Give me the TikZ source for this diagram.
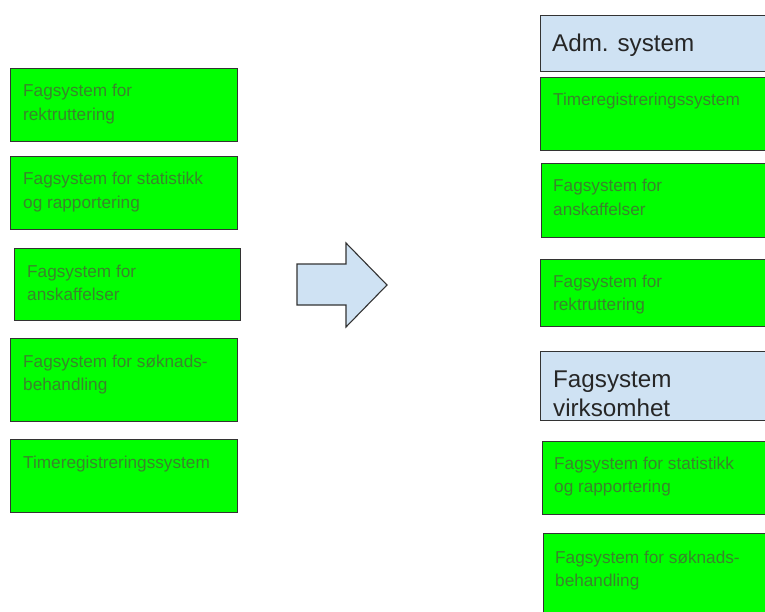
\documentclass[tikz,border=0pt]{standalone}
\usepackage{fontspec}
\setmainfont{Liberation Sans}
\definecolor{gfill}{HTML}{00FF00}
\definecolor{gtext}{RGB}{58,132,44}
\definecolor{bfill}{HTML}{CFE2F3}
\definecolor{bord}{HTML}{333333}
\tikzset{
  gbox/.style={draw=bord, line width=1.1pt, fill=gfill, anchor=north west, inner sep=0pt},
  bbox/.style={draw=bord, line width=1.1pt, fill=bfill, anchor=north west, inner sep=0pt},
  gtxt/.style={anchor=base west, inner sep=0pt, align=left, text=gtext, font=\fontsize{17.2}{23.5}\selectfont},
  btxt/.style={anchor=base west, inner sep=0pt, align=left, text=black!85, font=\fontsize{24.2}{29}\selectfont},
}
\begin{document}
\begin{tikzpicture}[x=1pt,y=-1pt]
\useasboundingbox (0,0) rectangle (765,612);
\fill[white] (0,0) rectangle (765,612);
\clip (0,0) rectangle (765,612);
% left column (two-line text nodes are anchored at the baseline of their last line)
\node[gbox, minimum width=227pt, minimum height=73pt] (l1) at (10,68) {};
\node[gtxt] (l1t) at (23,120.5) {Fagsystem for\\rektruttering};
\node[gbox, minimum width=227pt, minimum height=73pt] (l2) at (10,156) {};
\node[gtxt] (l2t) at (23,208.5) {Fagsystem for statistikk\\og rapportering};
\node[gbox, minimum width=226pt, minimum height=72pt] (l3) at (14,248) {};
\node[gtxt] (l3t) at (27,300.5) {Fagsystem for\\anskaffelser};
\node[gbox, minimum width=227pt, minimum height=83pt] (l4) at (10,338) {};
\node[gtxt] (l4t) at (23,390.5) {Fagsystem for søknads-\\behandling};
\node[gbox, minimum width=227pt, minimum height=73pt] (l5) at (10,439) {};
\node[gtxt] (l5t) at (23,468) {Timeregistreringssystem};
% arrow
\draw[draw=bord, line width=1.1pt, fill=bfill, line join=miter]
  (297,264) -- (346,264) -- (346,243) -- (387,285) -- (346,327) -- (346,305) -- (297,305) -- cycle;
% right column
\node[bbox, minimum width=260pt, minimum height=56pt] (r0) at (540,15) {};
\node[btxt] (r0t) at (552,52) {Adm. system};
\node[gbox, minimum width=260pt, minimum height=73pt] (r1) at (540,77) {};
\node[gtxt] (r1t) at (553,106) {Timeregistreringssystem};
\node[gbox, minimum width=260pt, minimum height=74pt] (r2) at (541,163) {};
\node[gtxt] (r2t) at (553,215.5) {Fagsystem for\\anskaffelser};
\node[gbox, minimum width=260pt, minimum height=67pt] (r3) at (540,259) {};
\node[gtxt] (r3t) at (553,310.5) {Fagsystem for\\rektruttering};
\node[bbox, minimum width=260pt, minimum height=69pt] (r4) at (540,351) {};
\node[btxt] (r4t) at (553,416) {Fagsystem\\virksomhet};
\node[gbox, minimum width=260pt, minimum height=73pt] (r5) at (542,441) {};
\node[gtxt] (r5t) at (554,492.5) {Fagsystem for statistikk\\og rapportering};
\node[gbox, minimum width=260pt, minimum height=90pt] (r6) at (543,533) {};
\node[gtxt] (r6t) at (555,586.5) {Fagsystem for søknads-\\behandling};
\end{tikzpicture}
\end{document}
